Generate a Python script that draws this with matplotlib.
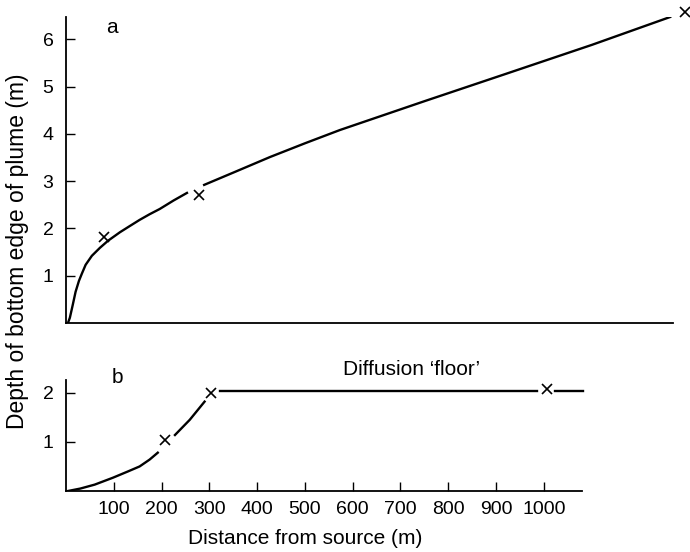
import matplotlib
matplotlib.use('Agg')
import matplotlib.pyplot as plt

plt.rcParams['font.family'] = ['Liberation Sans', 'DejaVu Sans']
plt.rcParams['font.size'] = 14

# panel a: depth of plume bottom edge, (distance m, depth m)
a_seg1_x = [4, 8, 14, 20, 27, 33, 41, 54, 71, 88, 113, 135, 154, 175, 196, 225, 253]
a_seg1_y = [0.0, 0.11, 0.38, 0.66, 0.89, 1.04, 1.23, 1.42, 1.59, 1.74, 1.92,
            2.06, 2.18, 2.30, 2.41, 2.59, 2.75]
a_seg2_x = [289, 350, 427, 500, 573, 750, 918, 1100, 1264]
a_seg2_y = [2.92, 3.18, 3.51, 3.80, 4.08, 4.69, 5.26, 5.88, 6.47]
a_cross_x = [79, 278, 1295]
a_cross_y = [1.82, 2.71, 6.58]

# panel b
b_seg1_x = [4, 30, 60, 98, 130, 154, 175, 192]
b_seg1_y = [0.0, 0.05, 0.13, 0.27, 0.40, 0.50, 0.64, 0.78]
b_seg2_x = [228, 259, 290]
b_seg2_y = [1.14, 1.45, 1.82]
b_floor1_x = [322, 985]
b_floor2_x = [1024, 1083]
b_floor_y = 2.04
b_cross_x = [207, 303, 1006]
b_cross_y = [1.04, 2.0, 2.08]

b_xticks = [100, 200, 300, 400, 500, 600, 700, 800, 900, 1000]

fig = plt.figure(figsize=(6.9, 5.52), dpi=100)
ax_a = fig.add_axes([0.0957, 0.4149, 0.8797, 0.5543])
ax_b = fig.add_axes([0.0957, 0.1105, 0.7478, 0.2011])

lw = 1.7
mk = dict(marker='x', color='black', linestyle='none', markersize=7,
          markeredgewidth=1.2, clip_on=False)

ax_a.plot(a_seg1_x, a_seg1_y, color='black', lw=lw)
ax_a.plot(a_seg2_x, a_seg2_y, color='black', lw=lw)
ax_a.plot(a_cross_x, a_cross_y, **mk)
ax_a.set_xlim(0, 1270)
ax_a.set_ylim(0, 6.47)
ax_a.set_yticks([1, 2, 3, 4, 5, 6])
ax_a.set_xticks([])
ax_a.text(96, 6.24, 'a', ha='center', va='center', fontsize=15)

ax_b.plot(b_seg1_x, b_seg1_y, color='black', lw=lw)
ax_b.plot(b_seg2_x, b_seg2_y, color='black', lw=lw)
ax_b.plot(b_floor1_x, [b_floor_y] * 2, color='black', lw=lw)
ax_b.plot(b_floor2_x, [b_floor_y] * 2, color='black', lw=lw, clip_on=False)
ax_b.plot(b_cross_x, b_cross_y, **mk)
ax_b.set_xlim(0, 1080)
ax_b.set_ylim(0, 2.26)
ax_b.set_yticks([1, 2])
ax_b.set_xticks(b_xticks)
ax_b.text(108, 2.31, 'b', ha='center', va='center', fontsize=15)
ax_b.text(580, 2.47, 'Diffusion \u2018floor\u2019', ha='left', va='center',
          fontsize=15)

for ax in (ax_a, ax_b):
    for s in ('top', 'right'):
        ax.spines[s].set_visible(False)
    for s in ('left', 'bottom'):
        ax.spines[s].set_linewidth(1.3)
    ax.tick_params(direction='in', length=6.5, width=1.0, labelsize=14)
    ax.tick_params(axis='y', pad=9)
    ax.tick_params(axis='x', pad=7)

fig.text(0.025, 0.545, 'Depth of bottom edge of plume (m)', rotation=90,
         ha='center', va='center', fontsize=16.5)
fig.text(0.443, 0.025, 'Distance from source (m)', ha='center', va='center',
         fontsize=15)

fig.savefig('out.png', dpi=100)
